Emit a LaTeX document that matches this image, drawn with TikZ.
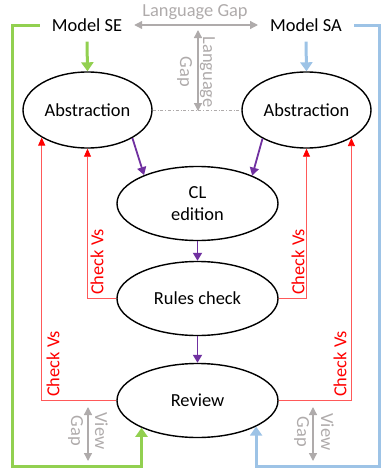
\documentclass[tikz,border=0pt]{standalone}
\usepackage{fontspec}
\setmainfont{Carlito}
\usetikzlibrary{shapes.geometric,arrows.meta}
\definecolor{cgreen}{HTML}{92D050}
\definecolor{cblue}{HTML}{9DC3E6}
\definecolor{cpurple}{HTML}{7030A0}
\definecolor{cgray}{HTML}{AFABAB}
\begin{document}
\begin{tikzpicture}[x=1pt,y=-1pt,
  font=\fontsize{18.4}{22}\selectfont,
  ell/.style={ellipse,draw=black,line width=1.4pt,inner sep=0pt},
  absbox/.style={ell,minimum width=129pt,minimum height=76pt},
  midbox/.style={ell,minimum width=161pt,minimum height=74pt},
  model/.style={inner xsep=12pt,inner ysep=10pt},
  greenline/.style={draw=cgreen,line width=3pt,-{Triangle[length=9pt,width=12pt]}},
  blueline/.style={draw=cblue,line width=3pt,-{Triangle[length=9pt,width=12pt]}},
  purplearrow/.style={draw=cpurple,line width=1.8pt,-{Triangle[length=8pt,width=9pt]}},
  redarrow/.style={draw=red!65,line width=0.8pt,-{Triangle[length=8pt,width=7pt,color=red]}},
  gaparrow/.style={draw=cgray,line width=1.3pt,{Triangle[length=8pt,width=8pt]}-{Triangle[length=8pt,width=8pt]}},
  gaptext/.style={text=cgray,align=center},
  checktext/.style={text=red,rotate=90}
]
\useasboundingbox (0,0) rectangle (381,471);

% nodes
\node[model] (SE) at (87,25) {Model SE};
\node[model] (SA) at (306,25) {Model SA};
\node[absbox] (AbsL) at (87.5,110) {Abstraction};
\node[absbox] (AbsR) at (306.5,110) {Abstraction};
\node[midbox,align=center,font=\fontsize{18.4}{22}\selectfont] (CL) at (197.5,203.5) {CL\\edition};
\node[midbox] (Rules) at (197.5,298.5) {Rules check};
\node[midbox] (Review) at (197.5,400.5) {Review};

% coordinates
\coordinate (gBL) at (12,466);
\coordinate (bBR) at (379.5,466);
\coordinate (lgT) at (198,30);
\coordinate (lgB) at (198,111);
\coordinate (vlT) at (88,407);
\coordinate (vlB) at (88,461);
\coordinate (vrT) at (313,407);
\coordinate (vrB) at (313,461);

% model lines
\draw[greenline] (SE.south) -- (AbsL.north);
\draw[blueline] (SA.south) -- (AbsR.north);
\draw[greenline] (SE.west) -| (gBL) -| (Review.206.8);
\draw[blueline] (SA.east) -| (bBR) -| (Review.336.3);

% purple flow
\draw[purplearrow] (AbsL.328) -- (CL.152);
\draw[purplearrow] (AbsR.213) -- (CL.27);
\draw[purplearrow] (CL.south) -- (Rules.north);
\draw[purplearrow] (Rules.south) -- (Review.north);

% check loops
\draw[redarrow] (Rules.west) -| (AbsL.south);
\draw[redarrow] (Rules.east) -| (AbsR.south);
\draw[redarrow] (Review.west) -| (AbsL.211.2);
\draw[redarrow] (Review.east) -| (AbsR.328.6);
\node[checktext] (c1) at (97,262) {Check Vs};
\node[checktext] (c2) at (298,262) {Check Vs};
\node[checktext] (c3) at (53,364) {Check Vs};
\node[checktext] (c4) at (340,364) {Check Vs};

% gaps
\draw[gaparrow] (SE.east) -- (SA.west);
\node[gaptext] (lg) at (195,12) {Language Gap};
\draw[draw=cgray,line width=0.6pt,dash dot] (AbsL.east) -- (AbsR.west);
\draw[gaparrow] (lgT) -- (lgB);
\node[gaptext,rotate=-90,font=\fontsize{18.4}{23}\selectfont] (lg2) at (196,72) {Language\\Gap};
\draw[gaparrow] (vlT) -- (vlB);
\draw[gaparrow] (vrT) -- (vrB);
\node[gaptext,rotate=-90,font=\fontsize{18.4}{24}\selectfont] (vg1) at (88,431) {View\\Gap};
\node[gaptext,rotate=-90,font=\fontsize{18.4}{24}\selectfont] (vg2) at (314,432) {View\\Gap};
\end{tikzpicture}
\end{document}
